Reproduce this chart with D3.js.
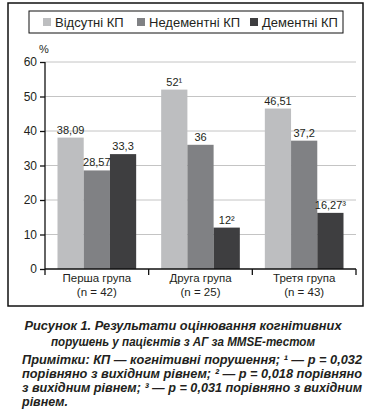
<!DOCTYPE html>
<html>
<head>
<meta charset="utf-8">
<script src="https://cdn.jsdelivr.net/npm/d3@7"></script>
<style>
  body { margin: 0; background: #fff; }
  svg { display: block; font-family: "Liberation Sans", Arial, sans-serif; }
</style>
</head>
<body>
<script>
const grupy = ['Перша група', 'Друга група', 'Третя група']
const grupyN = ['(n = 42)', '(n = 25)', '(n = 43)']
const serii = ['Відсутні КП', 'Недементні КП', 'Дементні КП']
const vidsutni = [38.09, 52, 46.51]
const nedementni = [28.57, 36, 37.2]
const dementni = [33.3, 12, 16.27]
const pidpysy = [
  ['38,09', '28,57', '33,3'],
  ['52¹', '36', '12²'],
  ['46,51', '37,2', '16,27³']
]
const tyky = [0, 10, 20, 30, 40, 50, 60]
const kolory = ['#bdbec0', '#808184', '#3e3e40']

const tekstColir = '#231f20'
const svg = d3.select('body').append('svg').attr('width', 372).attr('height', 416)

// рамка
svg.append('rect').attr('x', 8).attr('y', 3).attr('width', 355).attr('height', 303)
  .attr('fill', 'none').attr('stroke', '#111').attr('stroke-width', 1.5)

// легенда
svg.append('rect').attr('x', 29).attr('y', 11).attr('width', 314).attr('height', 22)
  .attr('fill', 'none').attr('stroke', '#111').attr('stroke-width', 1)
const legX = [43, 137, 250]
serii.forEach(function (s, i) {
  svg.append('rect').attr('x', legX[i]).attr('y', 18).attr('width', 8).attr('height', 8).attr('fill', kolory[i])
  svg.append('text').attr('x', legX[i] + 12).attr('y', 27).attr('font-size', 13)
    .attr('fill', tekstColir).text(s)
})

const y = d3.scaleLinear().domain([0, 60]).range([269, 62])
const x = d3.scaleBand().domain(grupy).range([45, 356]).padding(0)
const xs = d3.scaleBand().domain(d3.range(3)).range([12.5, x.bandwidth() - 12.5]).padding(0)

// сітка
svg.append('g').selectAll('line').data(tyky.filter(d => d > 0)).join('line')
  .attr('x1', 45).attr('x2', 356).attr('y1', d => y(d)).attr('y2', d => y(d))
  .attr('stroke', '#c4c4c4').attr('stroke-width', 1)

// стовпці
const dani = grupy.map(function (g, i) {
  return [vidsutni[i], nedementni[i], dementni[i]].map(function (v, j) {
    return {grupa: g, seriya: j, v: v, pidpys: pidpysy[i][j]}
  })
}).flat()

svg.append('g').selectAll('rect').data(dani).join('rect')
  .attr('x', d => x(d.grupa) + xs(d.seriya))
  .attr('width', xs.bandwidth())
  .attr('y', d => y(d.v))
  .attr('height', d => y(0) - y(d.v))
  .attr('fill', d => kolory[d.seriya])

svg.append('g').selectAll('text').data(dani).join('text')
  .attr('x', d => x(d.grupa) + xs(d.seriya) + xs.bandwidth() / 2)
  .attr('y', d => y(d.v) - 4)
  .attr('text-anchor', 'middle')
  .attr('font-size', 11)
  .attr('fill', tekstColir)
  .text(d => d.pidpys)

// осі
const osY = d3.axisLeft(y).tickValues(tyky).tickSize(5).tickPadding(3)
const gy = svg.append('g').attr('transform', 'translate(45,0)').call(osY)
gy.select('.domain').attr('stroke', '#111').attr('stroke-width', 1.3).attr('d', 'M0,' + y(60) + 'V' + y(0))
gy.selectAll('.tick line').attr('stroke', '#111').attr('stroke-width', 1.3)
gy.selectAll('.tick text').attr('font-size', 12).attr('fill', tekstColir).attr('font-family', '"Liberation Sans", Arial, sans-serif')

svg.append('text').attr('x', 44).attr('y', 53).attr('text-anchor', 'middle')
  .attr('font-size', 11).attr('fill', tekstColir).text('%')

const gx = svg.append('g')
gx.append('line').attr('x1', 45).attr('x2', 356).attr('y1', y(0)).attr('y2', y(0))
  .attr('stroke', '#111').attr('stroke-width', 1.3)
gx.selectAll('line.tyk').data(grupy.concat(['kinets'])).join('line').attr('class', 'tyk')
  .attr('x1', d => d === 'kinets' ? 356 : x(d)).attr('x2', d => d === 'kinets' ? 356 : x(d))
  .attr('y1', y(0)).attr('y2', y(0) + 6)
  .attr('stroke', '#111').attr('stroke-width', 1.3)
grupy.forEach(function (g, i) {
  gx.append('text').attr('text-anchor', 'middle').attr('font-size', 11.5).attr('fill', tekstColir)
    .attr('x', x(g) + x.bandwidth() / 2).attr('y', 282).text(g)
  gx.append('text').attr('text-anchor', 'middle').attr('font-size', 11.5).attr('fill', tekstColir)
    .attr('x', x(g) + x.bandwidth() / 2).attr('y', 295.5).text(grupyN[i])
})

// підпис
const pidpysRys = svg.append('g').attr('font-weight', 'bold').attr('font-style', 'italic')
  .attr('fill', tekstColir)
pidpysRys.append('text').attr('x', 183).attr('y', 330).attr('text-anchor', 'middle').attr('font-size', 13)
  .attr('textLength', 317).attr('lengthAdjust', 'spacingAndGlyphs')
  .text('Рисунок 1.  Результати оцінювання когнітивних')
pidpysRys.append('text').attr('x', 183).attr('y', 346).attr('text-anchor', 'middle').attr('font-size', 13)
  .attr('textLength', 264).attr('lengthAdjust', 'spacingAndGlyphs')
  .text('порушень у пацієнтів з АГ за MMSE-тестом')

const prymitky = [
  'Примітки: КП — когнітивні порушення; ¹ — р = 0,032',
  'порівняно з вихідним рівнем; ² — р = 0,018 порівняно',
  'з вихідним рівнем; ³ — р = 0,031 порівняно з вихідним',
  'рівнем.'
]
prymitky.forEach(function (r, i) {
  const t = pidpysRys.append('text').attr('x', 22).attr('y', 364 + i * 14).attr('font-size', 12.5).text(r)
  if (i < 3) t.attr('textLength', 340).attr('lengthAdjust', 'spacingAndGlyphs')
})
</script>
</body>
</html>
